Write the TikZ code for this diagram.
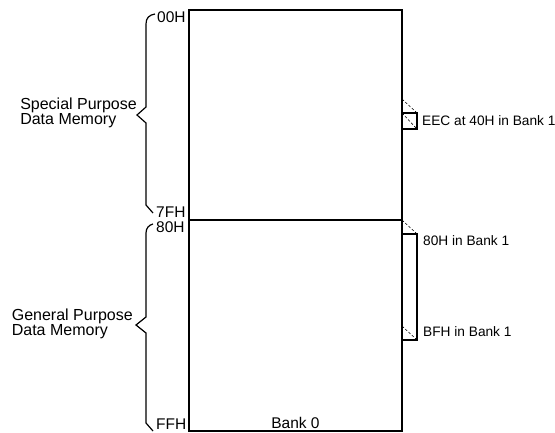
\documentclass[tikz,border=0pt]{standalone}
\usepackage{fontspec}
\setmainfont{Liberation Sans}
\begin{document}
\begin{tikzpicture}[x=1pt,y=-1pt,
  membox/.style={draw,line width=1.5pt,inner sep=0pt,outer sep=0pt,anchor=north west},
  bankbox/.style={draw,line width=1.2pt,inner sep=0pt,outer sep=0pt,anchor=north west,minimum width=15pt},
  brace/.style={line width=1.2pt},
  dashline/.style={dashed,dash pattern=on 2.5pt off 2pt,line width=0.6pt},
  lab/.style={inner sep=0pt,font=\fontsize{15.5}{15}\selectfont},
  rlab/.style={inner sep=0pt,anchor=west,font=\fontsize{13.7}{14}\selectfont},
  side/.style={inner sep=0pt,align=left,anchor=east,font=\fontsize{16}{15}\selectfont}]
\useasboundingbox (0,0) rectangle (555,433);
% main memory box
\node[membox,minimum width=213pt,minimum height=210pt] (spm) at (189,10) {};
\node[membox,minimum width=213pt,minimum height=211pt] (gpm) at (189,220) {};
% bank 1 boxes
\node[bankbox,minimum height=16pt] (eec) at (402,113) {};
\node[bankbox,minimum height=106pt] (gp1) at (402,234) {};
\coordinate (e0) at (402,99);
\coordinate (g1) at (402,326);
\draw[dashline] (e0) -- (eec.north east);
\draw[dashline] (eec.north west) -- (eec.south east);
\draw[dashline] (gpm.north east) -- (gp1.north east);
\draw[dashline] (g1) -- (gp1.south east);
% braces
\draw[brace] (155,14) .. controls (149,15) and (146,18) .. (146,24) -- (146,107) -- (137,115) -- (146,123) -- (146,205) -- (153,213);
\draw[brace] (153,224) .. controls (149,225) and (146,228) .. (146,233) -- (146,317) -- (136,325) -- (146,333) -- (146,423) -- (153,431);
% address labels
\node[lab,anchor=west] (a00) at (157,17) {00H};
\node[lab,anchor=west] (a7f) at (156,212) {7FH};
\node[lab,anchor=west] (a80) at (156,227) {80H};
\node[lab,anchor=west] (aff) at (156,424) {FFH};
\node[lab] (b0) at (295.5,423) {Bank 0};
% side labels
\node[side] (spd) at (137,112.5) {Special Purpose\\Data Memory};
\node[side] (gpd) at (133,323.5) {General Purpose\\Data Memory};
% right labels
\node[rlab] (eecl) at (422,121) {EEC at 40H in Bank 1};
\node[rlab] (l80) at (423,241) {80H in Bank 1};
\node[rlab] (lbf) at (423,332) {BFH in Bank 1};
\end{tikzpicture}
\end{document}
